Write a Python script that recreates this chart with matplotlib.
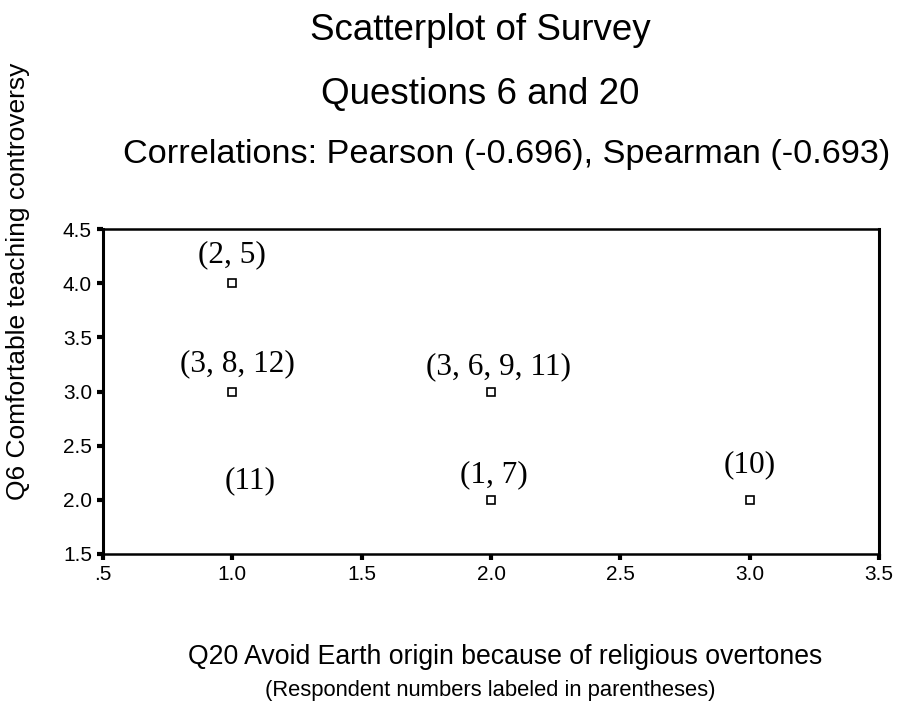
import matplotlib
matplotlib.use("Agg")
import matplotlib.pyplot as plt

plt.rcParams['font.family'] = ['Liberation Sans', 'DejaVu Sans']

# survey answers (Q20 on x, Q6 on y), one marker per distinct pair
q20 = [1, 1, 2, 2, 3]
q6 = [4, 3, 3, 2, 2]

# respondent numbers written near each pair
resp_text = ['(2, 5)', '(3, 8, 12)', '(3, 6, 9, 11)', '(1, 7)', '(10)', '(11)']
resp_x = [1.0, 1.02, 2.03, 2.01, 3.0, 1.07]
resp_y = [4.26, 3.26, 3.23, 2.23, 2.32, 2.18]

xticks = [0.5, 1.0, 1.5, 2.0, 2.5, 3.0, 3.5]
xtick_labels = ['.5', '1.0', '1.5', '2.0', '2.5', '3.0', '3.5']
yticks = [1.5, 2.0, 2.5, 3.0, 3.5, 4.0, 4.5]
ytick_labels = ['1.5', '2.0', '2.5', '3.0', '3.5', '4.0', '4.5']

fig = plt.figure(figsize=(8.99, 7.06), dpi=100)
ax = fig.add_axes([0.1146, 0.2153, 0.8632, 0.4603])

ax.plot(q20, q6, linestyle='none', marker='s', markersize=6,
        markerfacecolor='white', markeredgecolor='black', markeredgewidth=1.2)

for t, x, y in zip(resp_text, resp_x, resp_y):
    ax.text(x, y, t, ha='center', va='center', fontsize=22.5,
            family='Liberation Serif')

ax.set_xlim(0.5, 3.5)
ax.set_ylim(1.5, 4.5)
ax.set_xticks(xticks)
ax.set_xticklabels(xtick_labels)
ax.set_yticks(yticks)
ax.set_yticklabels(ytick_labels)
ax.tick_params(direction='out', length=4, width=3, labelsize=15, pad=4)

for s in ['left', 'right']:
    ax.spines[s].set_linewidth(2.2)
for s in ['top', 'bottom']:
    ax.spines[s].set_linewidth(1.8)

ax.set_ylabel('Q6 Comfortable teaching controversy', fontsize=19)
ax.yaxis.set_label_coords(-0.094, 0.84)

fig.text(0.534, 0.957, 'Scatterplot of Survey', ha='center', va='center', fontsize=26.5)
fig.text(0.534, 0.866, 'Questions 6 and 20', ha='center', va='center', fontsize=26.5)
fig.text(0.563, 0.781, 'Correlations: Pearson (-0.696), Spearman (-0.693)',
         ha='center', va='center', fontsize=24.7)
fig.text(0.562, 0.069, 'Q20 Avoid Earth origin because of religious overtones',
         ha='center', va='center', fontsize=19.2)
fig.text(0.545, 0.022, '(Respondent numbers labeled in parentheses)',
         ha='center', va='center', fontsize=15.8)

fig.savefig('out.png', dpi=100)
